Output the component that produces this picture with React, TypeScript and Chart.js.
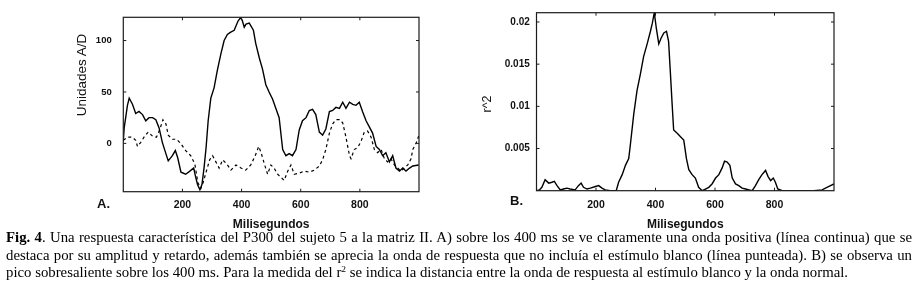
import React, { useEffect, useLayoutEffect, useRef } from 'react';
import { Chart, registerables } from 'chart.js';

Chart.register(...registerables);

// ---------- data ----------
// Panel A: continuous line (response with target stimulus)
const timeSolid = [0, 3, 14, 20, 31, 42, 53, 65, 76, 87, 99, 110, 121, 132, 144, 152, 166, 176, 184, 195, 211, 225, 238, 245, 251, 259, 266, 273, 280, 287, 296, 307, 318, 330, 341, 352, 362, 375, 388, 396, 402, 409, 415, 426, 440, 448, 460, 471, 482, 493, 505, 516, 527, 539, 550, 561, 572, 584, 595, 606, 618, 629, 640, 651, 663, 674, 685, 697, 708, 719, 731, 742, 753, 765, 776, 787, 798, 809, 821, 832, 843, 855, 866, 877, 888, 900, 911, 922, 934, 945, 956, 968, 979, 999];
const solidValues = [2, 15, 37, 44, 38, 29, 31, 28, 22, 25, 25, 23, 15, 1, -10, -17, -12, -7, -14, -28, -30, -27, -24, -33, -40, -45, -40, -24, -4, 22, 44, 54, 71, 87, 100, 106, 108, 110, 119, 122, 120, 113, 116, 117, 110, 97, 83, 72, 57, 50, 43, 34, 25, -6, -12, -10, -12, -6, 13, 22, 25, 32, 33, 28, 11, 8, 14, 31, 32, 35, 34, 40, 34, 40, 38, 37, 40, 31, 22, 16, 10, -3, -6, -12, -9, -18, -12, -24, -27, -24, -27, -24, -22, -21];

// Panel A: dotted line (response without target stimulus)
const timeDashed = [0, 14, 31, 42, 48, 59, 70, 84, 99, 112, 124, 134, 144, 152, 166, 180, 194, 211, 228, 242, 252, 262, 270, 280, 292, 302, 313, 324, 336, 350, 364, 381, 398, 414, 431, 446, 458, 466, 477, 488, 499, 510, 522, 533, 544, 556, 567, 578, 595, 612, 629, 646, 663, 674, 685, 697, 708, 719, 731, 742, 753, 765, 770, 781, 793, 804, 815, 826, 838, 849, 860, 872, 883, 894, 905, 917, 928, 939, 950, 962, 973, 979, 990, 1000];
const dashedValues = [3, 6, 6, 3, -3, 1, 6, 11, 7, 6, 14, 23, 19, 8, 4, 4, 0, -7, -12, -20, -38, -44, -38, -28, -16, -12, -18, -24, -16, -20, -26, -21, -24, -26, -21, -12, -3, -9, -20, -30, -21, -24, -30, -33, -36, -27, -21, -30, -29, -27, -28, -26, -22, -16, -6, 10, 19, 23, 23, 20, 6, -12, -15, -6, -4, 2, 11, 12, 6, -6, -9, -6, -15, -18, -15, -21, -24, -27, -24, -21, -15, -6, 0, 8];

// Panel B: r^2
const timeR2 = [0, 10, 18, 29, 41, 52, 60, 69, 80, 91, 102, 113, 130, 141, 150, 158, 170, 181, 198, 209, 220, 231, 248, 268, 276, 288, 299, 310, 315, 327, 338, 349, 360, 372, 383, 389, 396, 403, 411, 419, 428, 437, 444, 450, 456, 461, 473, 484, 495, 504, 512, 523, 534, 545, 557, 568, 579, 590, 602, 613, 624, 632, 641, 650, 658, 669, 680, 691, 703, 714, 725, 736, 747, 758, 770, 778, 787, 796, 803, 811, 826, 932, 960, 983, 1000];
const r2Values = [0, 0.0001, 0.0004, 0.0013, 0.0009, 0.001, 0.0011, 0.0006, 0.0001, 0.0002, 0.0003, 0.0002, 0.0001, 0.0006, 0.0009, 0.0004, 0.0002, 0.0003, 0.0005, 0.0006, 0.0003, 0.0001, 0, 0, 0.001, 0.0019, 0.003, 0.0038, 0.0053, 0.0091, 0.0119, 0.0138, 0.0159, 0.0174, 0.0189, 0.0198, 0.0211, 0.0192, 0.0174, 0.0181, 0.0187, 0.0189, 0.0177, 0.014, 0.0102, 0.0072, 0.0068, 0.0064, 0.006, 0.0038, 0.0025, 0.0019, 0.0015, 0.0004, 0, 0.0002, 0.0004, 0.0008, 0.0015, 0.0019, 0.0027, 0.0035, 0.0034, 0.003, 0.0015, 0.0008, 0.0006, 0.0003, 0.0002, 0.0001, 0, 0.0006, 0.0013, 0.0019, 0.0024, 0.0017, 0.0012, 0.0015, 0.001, 0.0002, 0, 0, 0.0001, 0.0005, 0.0008];

// Axes
const xTicks = [200, 400, 600, 800];
const xRange = [0, 1000];
const yTicksA = [0, 50, 100];
const yRangeA = [-47, 122.6];
const yTicksB = [0.005, 0.01, 0.015, 0.02];
const yRangeB = [0, 0.0211];

const xTitle = 'Milisegundos';
const yTitleA = 'Unidades A/D';
const yTitleB = 'r^2';

// ---------- helpers ----------
const SANS = '"Liberation Sans", Arial, Helvetica, sans-serif';
const SERIF = '"Liberation Serif", "Times New Roman", serif';

const toPoints = (xs: number[], ys: number[]) => xs.map((x, i) => ({ x, y: ys[i] }));

const matlabBox = {
  id: 'matlabBox',
  afterDraw(chart: any) {
    const { ctx, chartArea } = chart;
    const { left, right, top, bottom } = chartArea;
    const xs = chart.scales.x;
    const ys = chart.scales.y;
    ctx.save();
    ctx.strokeStyle = '#1c1c1c';
    ctx.lineWidth = 1.2;
    ctx.strokeRect(left, top, right - left, bottom - top);
    ctx.lineWidth = 1;
    const tl = 3;
    ctx.beginPath();
    xs.ticks.forEach((t: any) => {
      const p = xs.getPixelForValue(t.value);
      ctx.moveTo(p, bottom);
      ctx.lineTo(p, bottom - tl);
      ctx.moveTo(p, top);
      ctx.lineTo(p, top + tl);
    });
    ys.ticks.forEach((t: any) => {
      const p = ys.getPixelForValue(t.value);
      ctx.moveTo(left, p);
      ctx.lineTo(left + tl, p);
      ctx.moveTo(right, p);
      ctx.lineTo(right - tl, p);
    });
    ctx.stroke();
    ctx.restore();
  },
};

type PanelProps = {
  datasets: any[];
  yRange: number[];
  yTicks: number[];
  yWidth: number;
  xHeight: number;
  padRight: number;
  padTop: number;
  yFont: number;
  yPad: number;
  xPad: number;
  titlePadBottom: number;
  width: number;
  height: number;
  left: number;
};

function Panel(p: PanelProps) {
  const ref = useRef<HTMLCanvasElement>(null);
  useEffect(() => {
    if (!ref.current) return;
    const chart = new Chart(ref.current, {
      type: 'scatter',
      data: { datasets: p.datasets },
      plugins: [matlabBox],
      options: {
        responsive: false,
        animation: false,
        devicePixelRatio: 1,
        layout: { padding: { left: 0, right: p.padRight, top: p.padTop, bottom: 0 } },
        plugins: { legend: { display: false }, tooltip: { enabled: false } },
        elements: { point: { radius: 0 }, line: { tension: 0 } },
        scales: {
          x: {
            type: 'linear',
            min: xRange[0],
            max: xRange[1],
            afterBuildTicks: (s: any) => {
              s.ticks = xTicks.map((v) => ({ value: v }));
            },
            afterFit: (s: any) => {
              s.height = p.xHeight;
            },
            grid: { display: false, drawTicks: false },
            border: { display: false },
            ticks: {
              padding: p.xPad,
              color: '#111',
              autoSkip: false,
              maxRotation: 0,
              font: { family: SANS, size: 10.5, weight: 'bold' },
              callback: (v: any) => String(v),
            },
            title: {
              display: true,
              text: xTitle,
              color: '#111',
              font: { family: SANS, size: 12, weight: 'bold' },
              padding: { top: 0, bottom: p.titlePadBottom },
            },
          },
          y: {
            type: 'linear',
            min: p.yRange[0],
            max: p.yRange[1],
            afterBuildTicks: (s: any) => {
              s.ticks = p.yTicks.map((v) => ({ value: v }));
            },
            afterFit: (s: any) => {
              s.width = p.yWidth;
            },
            grid: { display: false, drawTicks: false },
            border: { display: false },
            ticks: {
              padding: p.yPad,
              color: '#111',
              autoSkip: false,
              font: { family: SANS, size: p.yFont, weight: 'bold' },
              callback: (v: any) => String(v),
            },
          },
        },
      } as any,
    });
    return () => chart.destroy();
  }, []);
  return (
    <canvas
      ref={ref}
      width={p.width}
      height={p.height}
      style={{ position: 'absolute', left: p.left, top: 0, width: p.width, height: p.height }}
    />
  );
}

const lineStyle = (top: number): React.CSSProperties => ({
  position: 'absolute',
  left: 6,
  top,
  whiteSpace: 'nowrap',
  transformOrigin: '0 0',
  fontFamily: SERIF,
  fontSize: 14,
  lineHeight: '17.5px',
  color: '#000',
});

// Caption: a common horizontal scale taken from the last (unjustified) line,
// the first two lines justified by word spacing, like the printed paragraph.
function Caption() {
  const l1 = useRef<HTMLDivElement>(null);
  const l2 = useRef<HTMLDivElement>(null);
  const l3 = useRef<HTMLDivElement>(null);
  useLayoutEffect(() => {
    const els = [l1.current, l2.current, l3.current];
    if (els.some((e) => !e)) return;
    const widths = els.map((e) => e!.getBoundingClientRect().width);
    const s = 842 / widths[2];
    [0, 1].forEach((i) => {
      const el = els[i]!;
      const spaces = (el.textContent || '').split(' ').length - 1;
      const extra = 906 / s - widths[i];
      el.style.wordSpacing = `${extra / spaces}px`;
    });
    els.forEach((el) => {
      el!.style.transform = `scaleX(${s})`;
    });
  }, []);
  return (
    <>
      <div ref={l1} style={lineStyle(229)}>
        <b>Fig. 4</b>. Una respuesta característica del P300 del sujeto 5 a la matriz II. A) sobre los 400 ms se ve claramente una onda positiva (línea continua) que se
      </div>
      <div ref={l2} style={lineStyle(247)}>
        destaca por su amplitud y retardo, además también se aprecia la onda de respuesta que no incluía el estímulo blanco (línea punteada). B) se observa un
      </div>
      <div ref={l3} style={lineStyle(264)}>
        pico sobresaliente sobre los 400 ms. Para la medida del r
        <sup style={{ fontSize: 9, lineHeight: 0, verticalAlign: 5 }}>2</sup> se indica la distancia entre la onda de respuesta al estímulo blanco y la onda normal.
      </div>
    </>
  );
}

const rotated = (cx: number, cy: number, size: number): React.CSSProperties => ({
  position: 'absolute',
  left: cx,
  top: cy,
  transform: 'translate(-50%, -50%) rotate(-90deg)',
  whiteSpace: 'nowrap',
  fontFamily: SANS,
  fontSize: size,
  lineHeight: 1,
  color: '#111',
});

export default function App() {
  const dsA = [
    {
      label: 'Con estímulo blanco',
      data: toPoints(timeSolid, solidValues),
      showLine: true,
      borderColor: '#000',
      borderWidth: 1.4,
      pointRadius: 0,
    },
    {
      label: 'Sin estímulo blanco',
      data: toPoints(timeDashed, dashedValues),
      showLine: true,
      borderColor: '#000',
      borderWidth: 1.2,
      borderDash: [3, 3],
      pointRadius: 0,
    },
  ];
  const dsB = [
    {
      label: 'r^2',
      data: toPoints(timeR2, r2Values),
      showLine: true,
      borderColor: '#000',
      borderWidth: 1.4,
      pointRadius: 0,
    },
  ];
  return (
    <div style={{ position: 'absolute', left: 0, top: 0, width: 915, height: 285, background: '#fff', overflow: 'hidden' }}>
      <Panel
        datasets={dsA}
        yRange={yRangeA}
        yTicks={yTicksA}
        yWidth={123.3}
        xHeight={40.3}
        padRight={41}
        padTop={6}
        yFont={9.5}
        yPad={11.6}
        xPad={7}
        titlePadBottom={0.5}
        width={460}
        height={232}
        left={0}
      />
      <Panel
        datasets={dsB}
        yRange={yRangeB}
        yTicks={yTicksB}
        yWidth={76.5}
        xHeight={41.3}
        padRight={81}
        padTop={4}
        yFont={10}
        yPad={6.7}
        xPad={8}
        titlePadBottom={0}
        width={455}
        height={232}
        left={460}
      />
      <div style={rotated(81.7, 75, 13.5)}>{yTitleA}</div>
      <div style={rotated(486.7, 104, 12.5)}>{yTitleB}</div>
      <div style={{ position: 'absolute', left: 97, top: 196, fontFamily: SANS, fontWeight: 'bold', fontSize: 13, lineHeight: '16px', color: '#111' }}>A.</div>
      <div style={{ position: 'absolute', left: 510, top: 193, fontFamily: SANS, fontWeight: 'bold', fontSize: 13, lineHeight: '16px', color: '#111' }}>B.</div>
      <Caption />
    </div>
  );
}
